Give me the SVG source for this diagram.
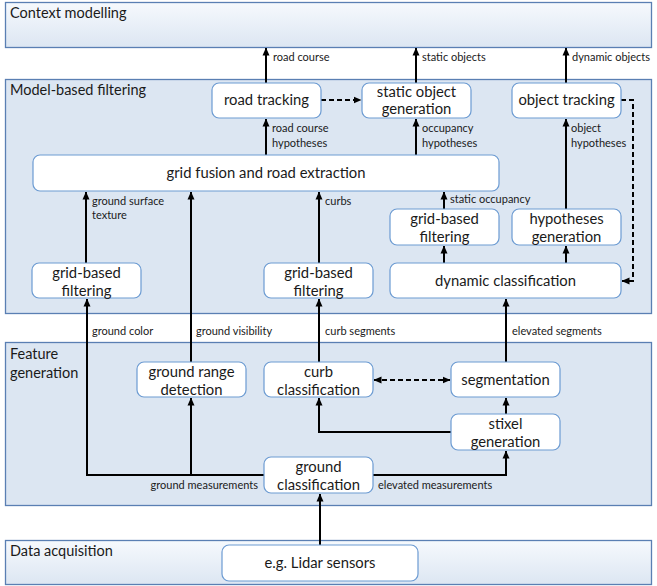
<svg xmlns="http://www.w3.org/2000/svg" width="657" height="586" viewBox="0 0 657 586">
  <defs>
    <linearGradient id="layerFade" x1="0" y1="0" x2="0" y2="1">
      <stop offset="0" stop-color="#f6f9fd"/>
      <stop offset="1" stop-color="#dce6f2"/>
    </linearGradient>
    <marker id="arrow" viewBox="0 0 8 8" refX="7.5" refY="4" markerWidth="8" markerHeight="8" markerUnits="userSpaceOnUse" orient="auto-start-reverse">
      <path d="M0,0.5 L8,4 L0,7.5 z" fill="#000"/>
    </marker>
    <style>
      .layer { stroke: #5a7fb3; stroke-width: 1.3; }
      .flat { fill: #dce6f2; }
      .fade { fill: url(#layerFade); }
      .node rect { fill: #fff; stroke: #6c9bd2; stroke-width: 1.2; }
      text { font-family: Lato, "Liberation Sans", sans-serif; fill: #1a1a1a; }
      .title { font-size: 14.5px; }
      .label { font-size: 14.8px; text-anchor: middle; }
      .small { font-size: 11px; }
      .wire { fill: none; stroke: #000; stroke-width: 2; }
      .dash { stroke-dasharray: 5 3; }
    </style>
  </defs>

  <!-- processing layers -->
  <g id="layers">
    <rect class="layer fade" x="5.5" y="2.5" width="646" height="45"/>
    <text class="title" x="10" y="18">Context modelling</text>
    <rect class="layer flat" x="5.5" y="79.5" width="646" height="234"/>
    <text class="title" x="10" y="95">Model-based filtering</text>
    <rect class="layer flat" x="5.5" y="342.5" width="646" height="163"/>
    <text class="title" x="10" y="359">Feature</text>
    <text class="title" x="10" y="378">generation</text>
    <rect class="layer fade" x="5.5" y="540.5" width="646" height="44"/>
    <text class="title" x="10" y="556">Data acquisition</text>
  </g>

  <!-- connectors -->
  <g id="connectors">
    <path class="wire" d="M266,83 V48" marker-end="url(#arrow)"/>
    <path class="wire" d="M416,83 V48" marker-end="url(#arrow)"/>
    <path class="wire" d="M566,83 V48" marker-end="url(#arrow)"/>
    <path class="wire dash" d="M321,100 H361" marker-end="url(#arrow)"/>
    <path class="wire dash" d="M621,100 H633 V281 H622" marker-end="url(#arrow)"/>
    <path class="wire" d="M266,155 V119" marker-end="url(#arrow)"/>
    <path class="wire" d="M416,155 V119" marker-end="url(#arrow)"/>
    <path class="wire" d="M566,209 V119" marker-end="url(#arrow)"/>
    <path class="wire" d="M444,209 V192" marker-end="url(#arrow)"/>
    <path class="wire" d="M444,263 V246" marker-end="url(#arrow)"/>
    <path class="wire" d="M566,263 V246" marker-end="url(#arrow)"/>
    <path class="wire" d="M86,263 V192" marker-end="url(#arrow)"/>
    <path class="wire" d="M319,263 V192" marker-end="url(#arrow)"/>
    <path class="wire" d="M191,362 V192" marker-end="url(#arrow)"/>
    <path class="wire" d="M264,475 H87 V299" marker-end="url(#arrow)"/>
    <path class="wire" d="M191,475 V398" marker-end="url(#arrow)"/>
    <path class="wire" d="M319,362 V299" marker-end="url(#arrow)"/>
    <path class="wire" d="M506,362 V299" marker-end="url(#arrow)"/>
    <path class="wire" d="M373,475 H506 V451" marker-end="url(#arrow)"/>
    <path class="wire" d="M451,432 H319 V398" marker-end="url(#arrow)"/>
    <path class="wire" d="M506,414 V398" marker-end="url(#arrow)"/>
    <path class="wire dash" d="M374,380 H450" marker-start="url(#arrow)" marker-end="url(#arrow)"/>
    <path class="wire" d="M320,545 V494" marker-end="url(#arrow)"/>

    <text class="small" x="273" y="61">road course</text>
    <text class="small" x="422" y="61">static objects</text>
    <text class="small" x="572" y="61">dynamic objects</text>
    <text class="small" x="272" y="132">road course</text>
    <text class="small" x="272" y="147">hypotheses</text>
    <text class="small" x="422" y="132">occupancy</text>
    <text class="small" x="422" y="147">hypotheses</text>
    <text class="small" x="571" y="132">object</text>
    <text class="small" x="571" y="147">hypotheses</text>
    <text class="small" x="450" y="203">static occupancy</text>
    <text class="small" x="92" y="205">ground surface</text>
    <text class="small" x="92" y="219">texture</text>
    <text class="small" x="325" y="205">curbs</text>
    <text class="small" x="92" y="335">ground color</text>
    <text class="small" x="196" y="335">ground visibility</text>
    <text class="small" x="325" y="335">curb segments</text>
    <text class="small" x="512" y="335">elevated segments</text>
    <text class="small" x="258" y="489" text-anchor="end">ground measurements</text>
    <text class="small" x="378" y="489">elevated measurements</text>
  </g>

  <!-- nodes -->
  <g id="road-tracking" class="node">
    <rect x="212" y="83" width="109" height="35" rx="7"/>
    <text class="label" x="266.5" y="105">road tracking</text>
  </g>
  <g id="static-object-generation" class="node">
    <rect x="362" y="83" width="109" height="35" rx="7"/>
    <text class="label" x="416.5" y="97">static object</text>
    <text class="label" x="416.5" y="114">generation</text>
  </g>
  <g id="object-tracking" class="node">
    <rect x="512" y="83" width="109" height="35" rx="7"/>
    <text class="label" x="566.5" y="105">object tracking</text>
  </g>
  <g id="grid-fusion" class="node">
    <rect x="33" y="155" width="466" height="36" rx="7"/>
    <text class="label" x="266" y="178">grid fusion and road extraction</text>
  </g>
  <g id="grid-filter-static" class="node">
    <rect x="390" y="209" width="109" height="36" rx="7"/>
    <text class="label" x="444.5" y="224">grid-based</text>
    <text class="label" x="444.5" y="242">filtering</text>
  </g>
  <g id="hypotheses-generation" class="node">
    <rect x="512" y="209" width="109" height="36" rx="7"/>
    <text class="label" x="566.5" y="224">hypotheses</text>
    <text class="label" x="566.5" y="242">generation</text>
  </g>
  <g id="grid-filter-ground" class="node">
    <rect x="32" y="263" width="109" height="35" rx="7"/>
    <text class="label" x="86.5" y="278">grid-based</text>
    <text class="label" x="86.5" y="296">filtering</text>
  </g>
  <g id="grid-filter-curbs" class="node">
    <rect x="264" y="263" width="109" height="35" rx="7"/>
    <text class="label" x="318.5" y="278">grid-based</text>
    <text class="label" x="318.5" y="296">filtering</text>
  </g>
  <g id="dynamic-classification" class="node">
    <rect x="390" y="263" width="231" height="35" rx="7"/>
    <text class="label" x="505.5" y="286">dynamic classification</text>
  </g>
  <g id="ground-range-detection" class="node">
    <rect x="137" y="362" width="109" height="35" rx="7"/>
    <text class="label" x="191.5" y="377">ground range</text>
    <text class="label" x="191.5" y="395">detection</text>
  </g>
  <g id="curb-classification" class="node">
    <rect x="264" y="362" width="109" height="35" rx="7"/>
    <text class="label" x="318.5" y="377">curb</text>
    <text class="label" x="318.5" y="395">classification</text>
  </g>
  <g id="segmentation" class="node">
    <rect x="451" y="362" width="109" height="35" rx="7"/>
    <text class="label" x="505.5" y="385">segmentation</text>
  </g>
  <g id="stixel-generation" class="node">
    <rect x="451" y="414" width="109" height="36" rx="7"/>
    <text class="label" x="505.5" y="429">stixel</text>
    <text class="label" x="505.5" y="447">generation</text>
  </g>
  <g id="ground-classification" class="node">
    <rect x="264" y="457" width="109" height="36" rx="7"/>
    <text class="label" x="318.5" y="472">ground</text>
    <text class="label" x="318.5" y="490">classification</text>
  </g>
  <g id="lidar-sensors" class="node">
    <rect x="222" y="545" width="196" height="36" rx="7"/>
    <text class="label" x="320" y="568">e.g. Lidar sensors</text>
  </g>
</svg>
